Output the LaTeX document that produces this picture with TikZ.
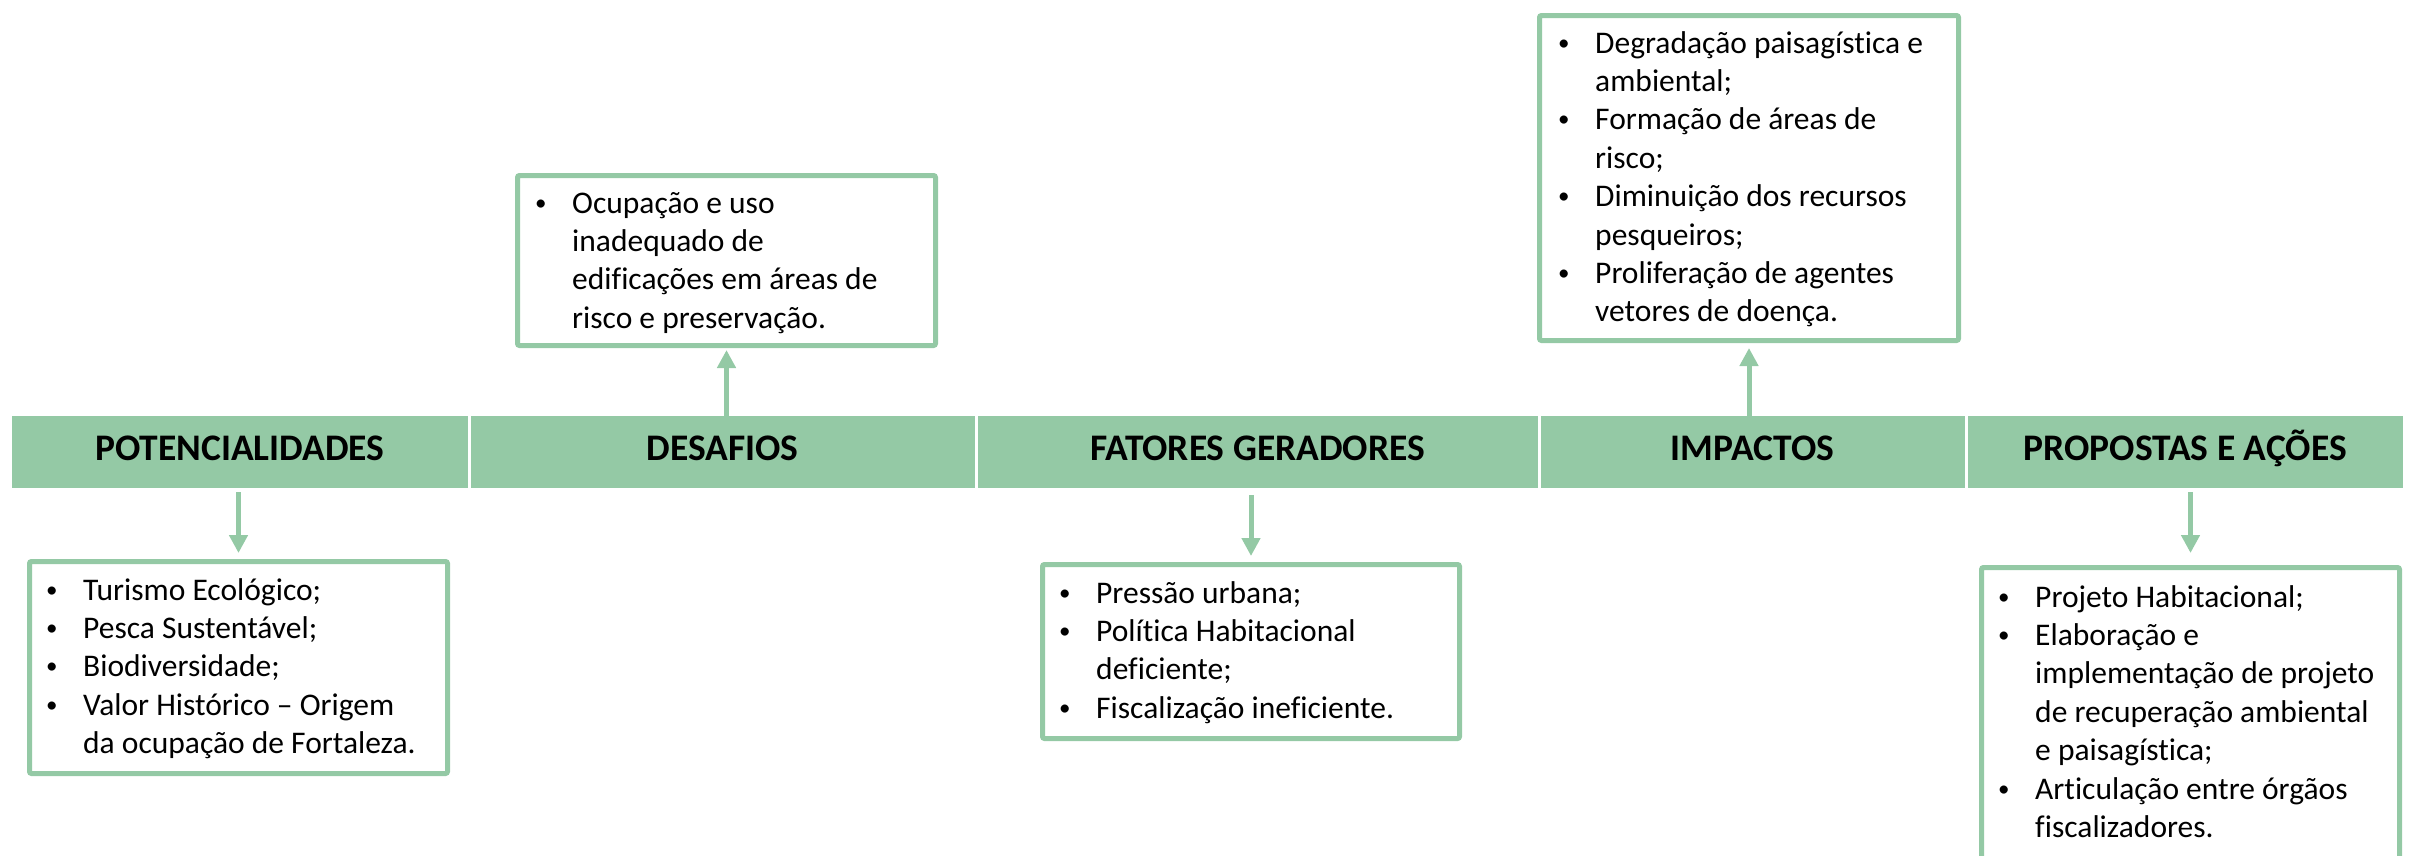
\documentclass[tikz,border=0pt]{standalone}
\usepackage{fontspec}
\setmainfont[Ligatures=NoCommon]{Carlito}
\usetikzlibrary{arrows.meta}
\definecolor{mint}{RGB}{148,201,165}
\newcommand{\bul}{\makebox[38pt][l]{\hspace{1pt}\raisebox{3pt}{\fontsize{23}{23}\selectfont\textbullet}}}
\newcommand{\nob}{\makebox[38pt][l]{}}
\begin{document}
\begin{tikzpicture}[x=1pt,y=-1pt,
  hdr/.style={rectangle,fill=mint,inner sep=0pt,minimum height=72pt,
    font=\fontsize{37.5}{40}\selectfont\bfseries,text height=16pt,text depth=0pt},
  bx/.style={rectangle,draw=mint,line width=5pt,rounded corners=2pt,fill=white,inner sep=0pt},
  txt/.style={anchor=base west,inner sep=0pt,font=\fontsize{31.5}{38.4}\selectfont},
  arr/.style={draw=mint,line width=5pt,-{Triangle[width=18pt,length=18pt]}}]
\useasboundingbox (0,0) rectangle (2409,855);
\clip (0,0) rectangle (2409,855);
% header segments
\node[hdr,minimum width=455.5pt] (h1) at (239.75,452) {POTENCIALIDADES};
\node[hdr,minimum width=504pt] (h2) at (722.5,452) {DESAFIOS};
\node[hdr,minimum width=560pt] (h3) at (1257.5,452) {FATORES GERADORES};
\node[hdr,minimum width=424pt] (h4) at (1752.5,452) {IMPACTOS};
\node[hdr,minimum width=435.5pt] (h5) at (2185.25,452) {PROPOSTAS E AÇÕES};
% boxes
\node[bx,minimum width=418pt,minimum height=170pt] (dbox) at (726.5,260.5) {};
\node[bx,minimum width=419pt,minimum height=325pt] (ibox) at (1749,178) {};
\node[bx,minimum width=418pt,minimum height=212pt] (pbox) at (238.5,667.5) {};
\node[bx,minimum width=417pt,minimum height=174pt] (fbox) at (1251,651.5) {};
\node[bx,minimum width=418pt,minimum height=337.5pt] (rbox) at (2190.5,736.25) {};
% texts
\node[txt] (dtxt) at (534,213) {\renewcommand\arraystretch{1}\begin{tabular}[t]{@{}l@{}l@{}}
\bul&Ocupação e uso\\
\nob&inadequado de\\
\nob&edificações em áreas de\\
\nob&risco e preservação.
\end{tabular}};
\node[txt] (itxt) at (1557,53) {\renewcommand\arraystretch{1}\begin{tabular}[t]{@{}l@{}l@{}}
\bul&Degradação paisagística e\\
\nob&ambiental;\\
\bul&Formação de áreas de\\
\nob&risco;\\
\bul&Diminuição dos recursos\\
\nob&pesqueiros;\\
\bul&Proliferação de agentes\\
\nob&vetores de doença.
\end{tabular}};
\node[txt] (ptxt) at (45,600) {\renewcommand\arraystretch{1}\begin{tabular}[t]{@{}l@{}l@{}}
\bul&Turismo Ecológico;\\
\bul&Pesca Sustentável;\\
\bul&Biodiversidade;\\
\bul&Valor Histórico – Origem\\
\nob&da ocupação de Fortaleza.
\end{tabular}};
\node[txt] (ftxt) at (1058,603) {\renewcommand\arraystretch{1}\begin{tabular}[t]{@{}l@{}l@{}}
\bul&Pressão urbana;\\
\bul&Política Habitacional\\
\nob&deficiente;\\
\bul&Fiscalização ineficiente.
\end{tabular}};
\node[txt] (rtxt) at (1997,607) {\renewcommand\arraystretch{1}\begin{tabular}[t]{@{}l@{}l@{}}
\bul&Projeto Habitacional;\\
\bul&Elaboração e\\
\nob&implementação de projeto\\
\nob&de recuperação ambiental\\
\nob&e paisagística;\\
\bul&Articulação entre órgãos\\
\nob&fiscalizadores.
\end{tabular}};
% arrows
\draw[arr,shorten >=2pt] (h2.north -| dbox.south) -- (dbox.south);
\draw[arr,shorten >=5pt] (h4.north -| ibox.south) -- (ibox.south);
\draw[arr,shorten <=4pt,shorten >=6pt] (h1.south -| pbox.north) -- (pbox.north);
\draw[arr,shorten <=7pt,shorten >=6pt] (h3.south -| fbox.north) -- (fbox.north);
\draw[arr,shorten <=4pt,shorten >=12pt] (h5.south -| rbox.north) -- (rbox.north);
\end{tikzpicture}
\end{document}
